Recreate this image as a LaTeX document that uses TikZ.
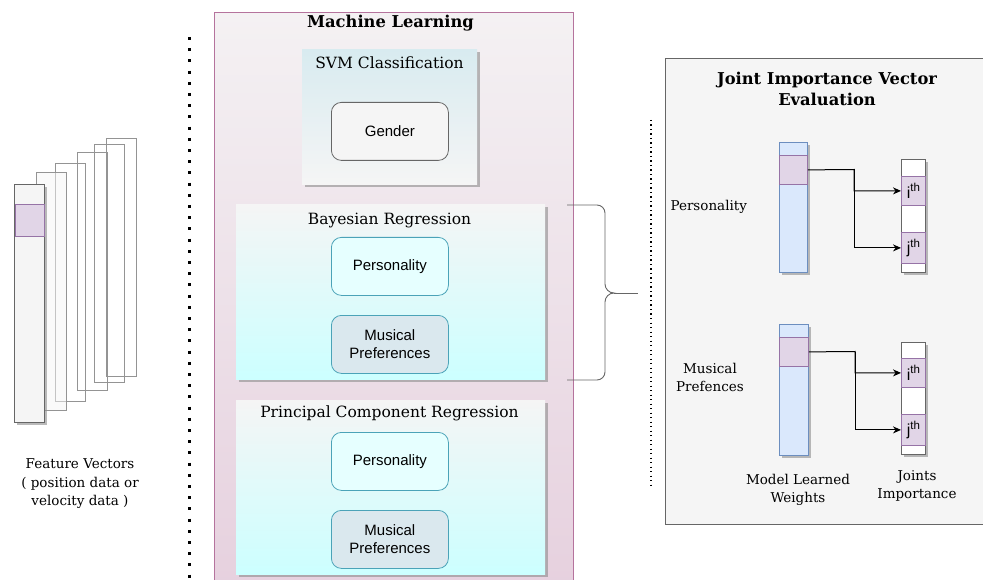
\documentclass[tikz,border=0pt]{standalone}
\usepackage{fontspec}
\setmainfont{DejaVu Serif}
\newfontfamily\sansf{Liberation Sans}
\usetikzlibrary{shadows,arrows.meta}
\definecolor{mlborder}{HTML}{B5739D}
\definecolor{mltop}{HTML}{F4F1F3}
\definecolor{mlbot}{HTML}{E6D0DE}
\definecolor{svmtop}{HTML}{D8EBF0}
\definecolor{lgray}{HTML}{F5F5F5}
\definecolor{cyanbot}{HTML}{CCFFFF}
\definecolor{tealb}{HTML}{4BA3B8}
\definecolor{perfill}{HTML}{E6FFFF}
\definecolor{musfill}{HTML}{DAE8EE}
\definecolor{dgray}{HTML}{666666}
\definecolor{bluef}{HTML}{DAE8FC}
\definecolor{blueb}{HTML}{6C8EBF}
\definecolor{purf}{HTML}{E1D5E7}
\definecolor{purb}{HTML}{9673A6}
\newcommand{\thsup}[1]{#1\raisebox{0.42em}{\fontsize{11.5}{12}\selectfont th}}
\begin{document}
\begin{tikzpicture}[x=1pt,y=-1pt,
  rb/.style={rectangle, inner sep=0pt, anchor=north west},
  shd/.style={drop shadow={shadow xshift=2.5pt, shadow yshift=-2.5pt, fill=black!45, opacity=0.6}},
  ttl/.style={font=\fontsize{15.5}{18}\selectfont},
  bttl/.style={font=\bfseries\fontsize{16.3}{20.5}\selectfont, align=center},
  lbl/.style={font=\fontsize{13.5}{18.5}\selectfont, align=center},
  sbox/.style={rb, rounded corners=10pt, minimum width=117pt, minimum height=58pt, font=\sansf\fontsize{15}{18}\selectfont, align=center, line width=0.8pt},
  perbox/.style={sbox, draw=tealb, fill=perfill},
  musbox/.style={sbox, draw=tealb, fill=musfill},
  regbox/.style={rb, top color=lgray, bottom color=cyanbot, shd, minimum width=309pt, minimum height=175pt},
  bvec/.style={rb, fill=bluef, draw=blueb, line width=0.8pt, shd},
  wvec/.style={rb, fill=white, draw=dgray, line width=0.8pt, shd},
  band/.style={rb, fill=purf, draw=purb, line width=0.8pt},
  cell/.style={rb, fill=purf, draw=purb, line width=0.8pt, minimum width=24pt, font=\sansf\fontsize{16}{17}\selectfont},
  fv/.style={rb, draw=dgray!70, line width=0.7pt, minimum width=30pt, minimum height=238pt},
  arr/.style={-{Stealth[length=8pt,width=7pt]}, line width=1pt, black},
  brc/.style={line width=0.9pt, dgray}
]
\useasboundingbox (0,0) rectangle (983,580);

% feature vectors
\node[fv] (fv6) at (106,138) {};
\node[fv] (fv5) at (94,144) {};
\node[fv] (fv4) at (77,152) {};
\node[fv] (fv3) at (55,163) {};
\node[fv, fill=black!4, fill opacity=0.5] (fv2) at (36,172) {};
\node[fv, fill=lgray, draw=dgray, shd] (fv1) at (14,184) {};
\node[band, minimum width=29pt, minimum height=32pt] (fvb) at (14.5,204) {};
\node[lbl] (fvlbl) at (80,484) {Feature Vectors\\( position data or\\velocity data )};

% thick dotted separator
\coordinate (sepA) at (189,37);
\coordinate (sepB) at (189,582);
\draw[line width=3pt, dash pattern=on 3pt off 8.2pt] (sepA) -- (sepB);

% machine learning box
\node[rb, draw=mlborder, line width=0.9pt, top color=mltop, bottom color=mlbot, minimum width=359pt, minimum height=585pt] (ml) at (214,12) {};
\node[bttl] (mlt) at (390.5,23) {Machine Learning};

% SVM
\node[rb, top color=svmtop, bottom color=lgray, shd, minimum width=175pt, minimum height=135pt] (svm) at (302,49) {};
\node[ttl] (svmt) at (389.5,63) {SVM Classification};
\node[sbox, draw=dgray, fill=lgray] (gender) at (331,102) {Gender};

% Bayesian
\node[regbox] (bay) at (236,204) {};
\node[ttl] (bayt) at (389.5,221) {Bayesian Regression};
\node[perbox] (bper) at (331,237) {Personality};
\node[musbox] (bmus) at (331,315) {Musical\\Preferences};

% PCR
\node[regbox, minimum height=174pt] (pcr) at (236,400) {};
\node[ttl] (pcrt) at (389.5,413) {Principal Component Regression};
\node[perbox] (pper) at (331,432) {Personality};
\node[musbox] (pmus) at (331,510) {Musical\\Preferences};

% brace
\coordinate (brT) at (567,205);
\coordinate (brB) at (567,380);
\coordinate (brM) at (614,293);
\coordinate (brE) at (638,293);
\draw[brc] (brT) -- (597,205) to[out=0,in=90] (605,213) -- (605,284) to[out=-90,in=180] (brM)
  to[out=180,in=90] (605,302) -- (605,372) to[out=-90,in=0] (597,380) -- (brB);
\draw[brc] (brM) -- (brE);

% small dotted line
\coordinate (sdA) at (651,120);
\coordinate (sdB) at (651,488);
\draw[line width=1.4pt, dash pattern=on 1.4pt off 3.1pt] (sdA) -- (sdB);

% right panel
\node[rb, fill=lgray, draw=dgray, line width=0.9pt, minimum width=335pt, minimum height=466pt] (jive) at (665,58) {};
\node[bttl] (jivet) at (827,89) {Joint Importance Vector\\Evaluation};

% personality block
\node[lbl, anchor=west] (plbl) at (667,207) {Personality};
\node[bvec, minimum width=28pt, minimum height=130pt] (pw) at (779,142) {};
\node[band, minimum width=28pt, minimum height=29pt] (pwb) at (779,155) {};
\node[wvec, minimum width=24pt, minimum height=113pt] (pj) at (901,159) {};
\node[cell, minimum height=29pt] (pci) at (901,176) {\thsup{i}};
\node[cell, minimum height=31pt] (pcj) at (901,232) {\thsup{j}};
\coordinate (pm) at (854,169.5);
\draw[arr] (pwb.east) -- (pm) |- (pci.west);
\draw[arr] (pm) |- (pcj.west);

% musical block
\node[lbl] (mlbl) at (710,377.5) {Musical\\Prefences};
\node[bvec, minimum width=29pt, minimum height=131pt] (mw) at (779,324) {};
\node[band, minimum width=29pt, minimum height=29pt] (mwb) at (779,337) {};
\node[wvec, minimum width=24pt, minimum height=112pt] (mj) at (901,342) {};
\node[cell, minimum height=29pt] (mci) at (901,358) {\thsup{i}};
\node[cell, minimum height=31pt] (mcj) at (901,414) {\thsup{j}};
\coordinate (mm) at (855,351.5);
\draw[arr] (mwb.east) -- (mm) |- (mci.west);
\draw[arr] (mm) |- (mcj.west);

\node[lbl] (mlw) at (798,490) {Model Learned\\Weights};
\node[lbl] (jimp) at (917,486) {Joints\\Importance};
\end{tikzpicture}
\end{document}
